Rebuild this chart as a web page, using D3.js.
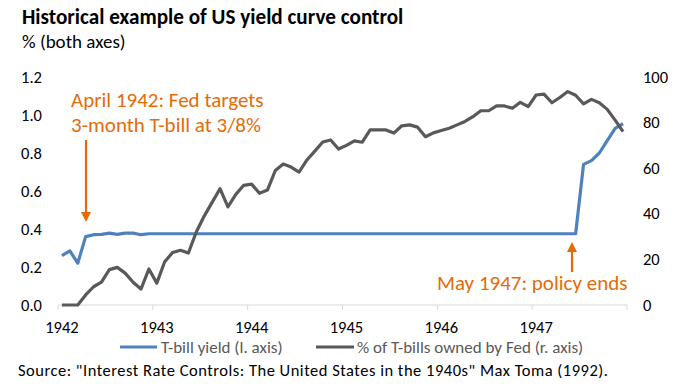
<!DOCTYPE html>
<html>
<head>
<meta charset="utf-8">
<script src="https://d3js.org/d3.v7.min.js"></script>
<style>
  body { margin: 0; background: #fff; }
  svg text { font-family: Carlito, Calibri, "Liberation Sans Narrow", "Noto Sans", sans-serif; }
</style>
</head>
<body>
<svg width="677" height="386" id="chart"></svg>
<script>
// monthly, Jan 1942 .. Dec 1947
var years = [1942, 1943, 1944, 1945, 1946, 1947]
var months = []
years.forEach(function(y) { for (var m = 1; m <= 12; m++) months.push(y + "-" + m) })

// T-bill yield, % (left axis)
var tbill = [0.26, 0.285, 0.22, 0.36, 0.37, 0.372, 0.378, 0.372, 0.378, 0.378, 0.37, 0.375,
  0.375, 0.375, 0.375, 0.375, 0.375, 0.375, 0.375, 0.375, 0.375, 0.375, 0.375, 0.375,
  0.375, 0.375, 0.375, 0.375, 0.375, 0.375, 0.375, 0.375, 0.375, 0.375, 0.375, 0.375,
  0.375, 0.375, 0.375, 0.375, 0.375, 0.375, 0.375, 0.375, 0.375, 0.375, 0.375, 0.375,
  0.375, 0.375, 0.375, 0.375, 0.375, 0.375, 0.375, 0.375, 0.375, 0.375, 0.375, 0.375,
  0.375, 0.375, 0.375, 0.375, 0.375, 0.375, 0.74, 0.76, 0.80, 0.865, 0.93, 0.955]

// % of T-bills owned by Fed (right axis)
var fedShare = [0, 0, 0, 4.4, 8, 10, 15.5, 16.5, 14, 10, 7, 15.8,
  9.6, 19, 23, 24, 22.8, 32, 39, 45, 51, 43, 48.5, 52.5,
  53, 49, 50.4, 59, 61.8, 60.5, 58.3, 63.6, 67.5, 71.5, 72.4, 68.4,
  70, 72, 71.4, 76.8, 76.8, 76.8, 75.4, 78.6, 79, 78, 73.8, 75.5,
  76.5, 77.5, 79, 80.5, 82.6, 85.2, 85.2, 87.3, 87.3, 86.3, 88.9, 87,
  92.1, 92.5, 88.7, 91, 93.6, 92, 88.2, 90.2, 88.7, 85.8, 81.1, 76]

var leftTicks = [0, 0.2, 0.4, 0.6, 0.8, 1.0, 1.2]
var rightTicks = [0, 20, 40, 60, 80, 100]

var blue = "#4f81bd", grey = "#595959", orange = "#e36c09"

var svg = d3.select("#chart")
var x = d3.scaleBand().domain(months).range([58, 627])
var yl = d3.scaleLinear().domain([0, 1.2]).range([305, 77])
var yr = d3.scaleLinear().domain([0, 100]).range([305, 77])
function cx(i) { return x(months[i]) + x.bandwidth() / 2 }

// title
svg.append("text").attr("x", 22).attr("y", 24).attr("font-size", 21.2).attr("font-weight", "bold")
  .attr("fill", "#000").text("Historical example of US yield curve control")
svg.append("text").attr("x", 22).attr("y", 48).attr("font-size", 19).attr("fill", "#000")
  .text("% (both axes)")

// x axis
svg.append("line").attr("x1", 58).attr("x2", 627).attr("y1", 305).attr("y2", 305)
  .attr("stroke", "#d9d9d9").attr("stroke-width", 1)
var tickIdx = d3.range(0, 73, 12)
svg.selectAll(".xt").data(tickIdx).enter().append("line")
  .attr("x1", function(d) { return d < 72 ? x(months[d]) : 627 })
  .attr("x2", function(d) { return d < 72 ? x(months[d]) : 627 })
  .attr("y1", 305).attr("y2", 310).attr("stroke", "#d9d9d9")
svg.selectAll(".xl").data(years).enter().append("text")
  .attr("x", function(d, i) { return cx(i * 12) }).attr("y", 333)
  .attr("text-anchor", "middle").attr("font-size", 16.5).attr("fill", "#000").text(function(d) { return d })

// left / right tick labels
svg.selectAll(".yl").data(leftTicks).enter().append("text")
  .attr("x", 42).attr("y", function(d) { return yl(d) + 5.5 }).attr("text-anchor", "end")
  .attr("font-size", 16.5).attr("fill", "#000").text(function(d) { return d.toFixed(1) })
svg.selectAll(".yr").data(rightTicks).enter().append("text")
  .attr("x", 643).attr("y", function(d) { return yr(d) + 5.5 })
  .attr("font-size", 16.5).attr("fill", "#000").text(function(d) { return d })

// lines
var lineL = d3.line().x(function(d, i) { return cx(i) }).y(function(d) { return yl(d) })
var lineR = d3.line().x(function(d, i) { return cx(i) }).y(function(d) { return yr(d) })
svg.append("path").datum(tbill).attr("d", lineL).attr("fill", "none")
  .attr("stroke", blue).attr("stroke-width", 3.2).attr("stroke-linejoin", "round")
svg.append("path").datum(fedShare).attr("d", lineR).attr("fill", "none")
  .attr("stroke", grey).attr("stroke-width", 3.2).attr("stroke-linejoin", "round")

// annotations
function arrow(xp, y0, y1) {
  var dir = y1 > y0 ? 1 : -1
  svg.append("line").attr("x1", xp).attr("x2", xp).attr("y1", y0).attr("y2", y1 - dir * 9)
    .attr("stroke", orange).attr("stroke-width", 2.2)
  svg.append("path").attr("fill", orange)
    .attr("d", "M" + (xp - 5) + "," + (y1 - dir * 10) + "L" + (xp + 5) + "," + (y1 - dir * 10) + "L" + xp + "," + y1 + "Z")
}
svg.append("text").attr("x", 71).attr("y", 107).attr("font-size", 21).attr("fill", orange)
  .text("April 1942: Fed targets")
svg.append("text").attr("x", 71).attr("y", 132).attr("font-size", 21).attr("fill", orange)
  .text("3-month T-bill at 3/8%")
arrow(86, 140, 222)
svg.append("text").attr("x", 437).attr("y", 290).attr("font-size", 21).attr("fill", orange)
  .text("May 1947: policy ends")
arrow(572, 272, 242)

// legend
svg.append("line").attr("x1", 120).attr("x2", 157).attr("y1", 347).attr("y2", 347)
  .attr("stroke", blue).attr("stroke-width", 3.2)
svg.append("text").attr("x", 161).attr("y", 353).attr("font-size", 17).attr("fill", "#595959")
  .text("T-bill yield (l. axis)")
svg.append("line").attr("x1", 316).attr("x2", 354).attr("y1", 347).attr("y2", 347)
  .attr("stroke", grey).attr("stroke-width", 3.2)
svg.append("text").attr("x", 357).attr("y", 353).attr("font-size", 17).attr("fill", "#595959")
  .text("% of T-bills owned by Fed (r. axis)")

// source
svg.append("text").attr("x", 18).attr("y", 376).attr("font-size", 16.5).attr("fill", "#000")
  .attr("textLength", 590).attr("lengthAdjust", "spacing")
  .text("Source: \"Interest Rate Controls: The United States in the 1940s\"  Max Toma (1992).")
</script>
</body>
</html>
